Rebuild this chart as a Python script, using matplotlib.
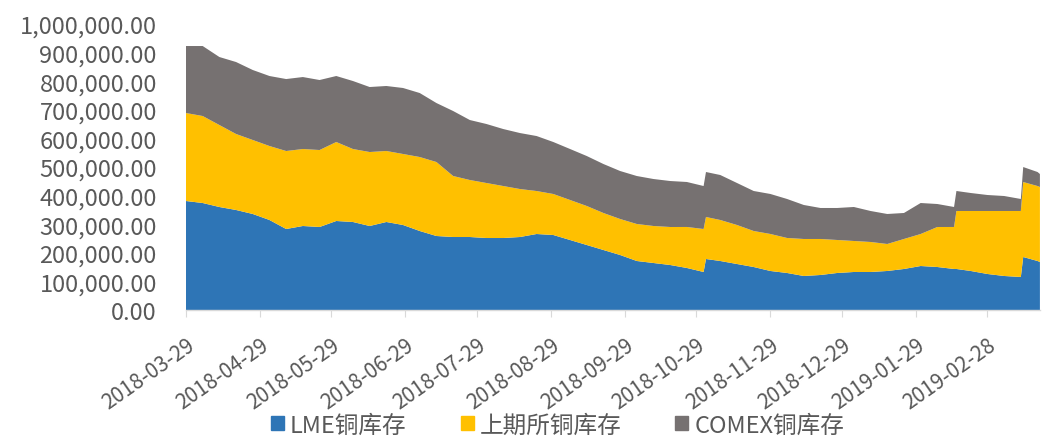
import matplotlib
matplotlib.use("Agg")
import matplotlib.pyplot as plt
import matplotlib.patches as mpatches
from matplotlib.ticker import FuncFormatter, MultipleLocator
import pandas as pd

plt.rcParams['font.family'] = ['Noto Sans CJK SC', 'DejaVu Sans']

dates = [
    "2018-03-29", "2018-04-05", "2018-04-12", "2018-04-19", "2018-04-26",
    "2018-05-03", "2018-05-10", "2018-05-17", "2018-05-24", "2018-05-31",
    "2018-06-07", "2018-06-14", "2018-06-21", "2018-06-28", "2018-07-05",
    "2018-07-12", "2018-07-19", "2018-07-26", "2018-08-02", "2018-08-09",
    "2018-08-16", "2018-08-23", "2018-08-30", "2018-09-06", "2018-09-13",
    "2018-09-20", "2018-09-27", "2018-10-04", "2018-10-11", "2018-10-18",
    "2018-10-25", "2018-11-01", "2018-11-02", "2018-11-08", "2018-11-15",
    "2018-11-22", "2018-11-29", "2018-12-06", "2018-12-13", "2018-12-20",
    "2018-12-27", "2019-01-03", "2019-01-10", "2019-01-17", "2019-01-24",
    "2019-01-31", "2019-02-07", "2019-02-14", "2019-02-15", "2019-02-21",
    "2019-02-28", "2019-03-07", "2019-03-14", "2019-03-15", "2019-03-21",
    "2019-03-22",
]

lme = [
    381100, 374100, 360100, 349700, 335700,
    314700, 283200, 293700, 290200, 311200,
    307700, 293700, 307700, 297200, 276200,
    258700, 255200, 255200, 251700, 251700,
    255200, 265700, 262200, 244800, 227300,
    209800, 192300, 171300, 164300, 157300,
    146900, 132900, 178300, 171300, 160800,
    150300, 136400, 129400, 118900, 122400,
    129400, 132900, 132900, 136400, 143400,
    153800, 150300, 143400, 143400, 136400,
    125900, 118900, 115400, 185300, 171300,
    167800,
]

shfe = [
    307700, 304200, 286700, 265700, 258700,
    258700, 272700, 269200, 269200, 276200,
    255200, 258700, 248300, 248300, 258700,
    258700, 213300, 199300, 192300, 181800,
    167800, 150300, 143400, 139900, 136400,
    129400, 125900, 129400, 129400, 132900,
    143400, 150300, 146900, 143400, 136400,
    125900, 129400, 122400, 129400, 125900,
    115400, 108400, 104900, 94400, 104900,
    111900, 139900, 146900, 202800, 209800,
    220300, 227300, 230800, 262200, 262200,
    262200,
]

comex = [
    234300, 244800, 237800, 251700, 244800,
    244800, 251700, 251700, 244800, 230800,
    237800, 227300, 227300, 230800, 223800,
    206300, 227300, 209800, 206300, 199300,
    195800, 192300, 181800, 178300, 174800,
    171300, 167800, 167800, 164300, 160800,
    157300, 150300, 157300, 157300, 146900,
    139900, 139900, 136400, 118900, 108400,
    111900, 118900, 108400, 104900, 90900,
    108400, 80400, 69900, 69900, 62900,
    55900, 52400, 42000, 52400, 49000,
    45500,
]

series_names = ["LME铜库存", "上期所铜库存", "COMEX铜库存"]
colors = ["#2E75B6", "#FFC000", "#767171"]

tick_dates = [
    "2018-03-29", "2018-04-29", "2018-05-29", "2018-06-29", "2018-07-29",
    "2018-08-29", "2018-09-29", "2018-10-29", "2018-11-29", "2018-12-29",
    "2019-01-29", "2019-02-28",
]

x = pd.to_datetime(dates)
xt = pd.to_datetime(tick_dates)

fig = plt.figure(figsize=(10.42, 4.39), dpi=100)
ax = fig.add_axes([0.1785, 0.2916, 0.8195, 0.6514])

ax.stackplot(x, lme, shfe, comex, colors=colors, linewidth=0)

ax.set_xlim(x[0], x[-1])
ax.set_ylim(0, 1000000)
ax.yaxis.set_major_locator(MultipleLocator(100000))
ax.yaxis.set_major_formatter(FuncFormatter(lambda v, p: f"{v:,.2f}"))

ax.set_xticks(xt)
ax.set_xticklabels(tick_dates, rotation=35, ha='right', rotation_mode='anchor')

for s in ["top", "right", "left"]:
    ax.spines[s].set_visible(False)
ax.spines["bottom"].set_color("#D9D9D9")
ax.spines["bottom"].set_linewidth(1.0)

ax.tick_params(axis='y', length=0, labelsize=17, labelcolor="#595959", pad=21)
ax.tick_params(axis='x', length=5, color="#D9D9D9", labelsize=15, labelcolor="#595959", pad=12)

handles = [mpatches.Patch(color=c, label=n) for c, n in zip(colors, series_names)]
fig.legend(handles=handles, loc='lower center', bbox_to_anchor=(0.535, -0.045), ncol=3,
           frameon=False, fontsize=17, handlelength=0.55, handleheight=0.55,
           handletextpad=0.25, columnspacing=2.3, labelcolor="#595959")

fig.savefig("out.png", dpi=100)
